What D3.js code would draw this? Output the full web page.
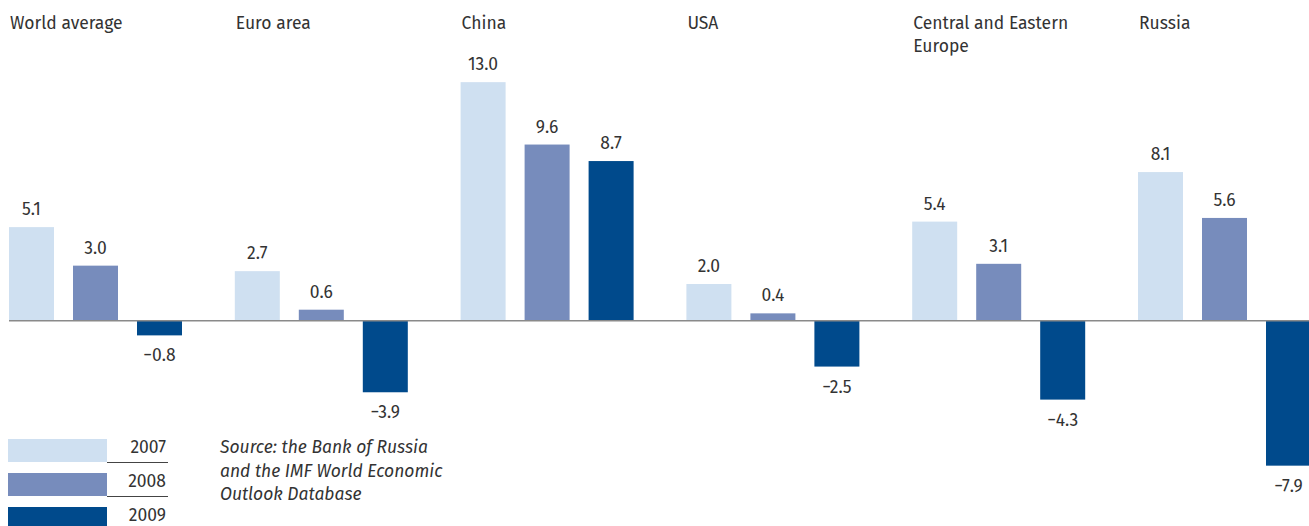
<!DOCTYPE html>
<html>
<head>
<meta charset="utf-8">
<script src="https://cdn.jsdelivr.net/npm/d3@7/dist/d3.min.js"></script>
<style>
  html, body { margin: 0; padding: 0; background: #fff; }
  svg { display: block; }
  text { font-family: "Fira Sans", Lato, "Open Sans", sans-serif; fill: #333; }
</style>
</head>
<body>
<svg id="chart" width="1309" height="526"></svg>
<script>
// GDP growth, % year-on-year
const regions = ["World average", "Euro area", "China", "USA", "Central and Eastern Europe", "Russia"];
const regionLines = [["World average"], ["Euro area"], ["China"], ["USA"], ["Central and Eastern", "Europe"], ["Russia"]];
const years = ["2007", "2008", "2009"];
const growth2007 = [5.1, 2.7, 13.0, 2.0, 5.4, 8.1];
const growth2008 = [3.0, 0.6, 9.6, 0.4, 3.1, 5.6];
const growth2009 = [-0.8, -3.9, 8.7, -2.5, -4.3, -7.9];
const sourceLines = ["Source: the Bank of Russia", "and the IMF World Economic", "Outlook Database"];

const series = [growth2007, growth2008, growth2009];
const colors = ["#cfe0f1", "#778cbc", "#004a8c"];
const fontSize = 17.5;

const svg = d3.select("#chart");

const x0 = d3.scaleBand().domain(regions).range([9, 9 + 6 * 225.8]).paddingInner(0).paddingOuter(0);
const x1 = d3.scaleBand().domain(years).range([0, 173]).paddingInner(19 / 64).paddingOuter(0);
const y = d3.scaleLinear().domain([-10, 14]).range([320.7 + 10 * 18.35, 320.7 - 14 * 18.35]);

const fmt = v => (v < 0 ? "\u2212" : "") + Math.abs(v).toFixed(1);

const rows = [];
regions.forEach((r, i) => years.forEach((yr, j) => rows.push({ region: r, year: yr, value: series[j][i], color: colors[j] })));

// bars
svg.append("g").selectAll("rect").data(rows).join("rect")
  .attr("x", d => x0(d.region) + x1(d.year))
  .attr("width", x1.bandwidth())
  .attr("y", d => y(Math.max(0, d.value)))
  .attr("height", d => Math.abs(y(d.value) - y(0)))
  .attr("fill", d => d.color);

// zero line
svg.append("line")
  .attr("x1", 9).attr("x2", 1309)
  .attr("y1", y(0)).attr("y2", y(0))
  .attr("stroke", "#8a8a8a").attr("stroke-width", 1.5);

// value labels
svg.append("g").selectAll("text").data(rows).join("text")
  .attr("x", d => x0(d.region) + x1(d.year) + x1.bandwidth() / 2)
  .attr("y", d => d.value >= 0 ? y(d.value) - 12 : y(d.value) + 26)
  .attr("text-anchor", "middle")
  .attr("font-size", fontSize)
  .text(d => fmt(d.value));

// region titles
const titles = svg.append("g").selectAll("text").data(regions).join("text")
  .attr("x", d => x0(d) + 1)
  .attr("y", 29)
  .attr("font-size", fontSize);
titles.each(function (d, i) {
  d3.select(this).selectAll("tspan").data(regionLines[i]).join("tspan")
    .attr("x", x0(d) + 1)
    .attr("dy", (t, k) => k === 0 ? 0 : 23)
    .text(t => t);
});

// legend
const legend = svg.append("g");
years.forEach((yr, j) => {
  const top = 439 + j * 34;
  legend.append("rect").attr("x", 8).attr("y", top).attr("width", 99).attr("height", 23).attr("fill", colors[j]);
  if (j < years.length - 1) {
    legend.append("line").attr("x1", 107).attr("x2", 168).attr("y1", top + 23.5).attr("y2", top + 23.5)
      .attr("stroke", "#444").attr("stroke-width", 1);
  }
  legend.append("text").attr("x", 166).attr("y", top + 14).attr("text-anchor", "end")
    .attr("font-size", fontSize).text(yr);
});

// source note
svg.append("g").selectAll("text").data(sourceLines).join("text")
  .attr("x", 220)
  .attr("y", (d, i) => 453 + i * 23.5)
  .attr("font-size", fontSize)
  .attr("font-style", "italic")
  .text(d => d);
</script>
</body>
</html>
